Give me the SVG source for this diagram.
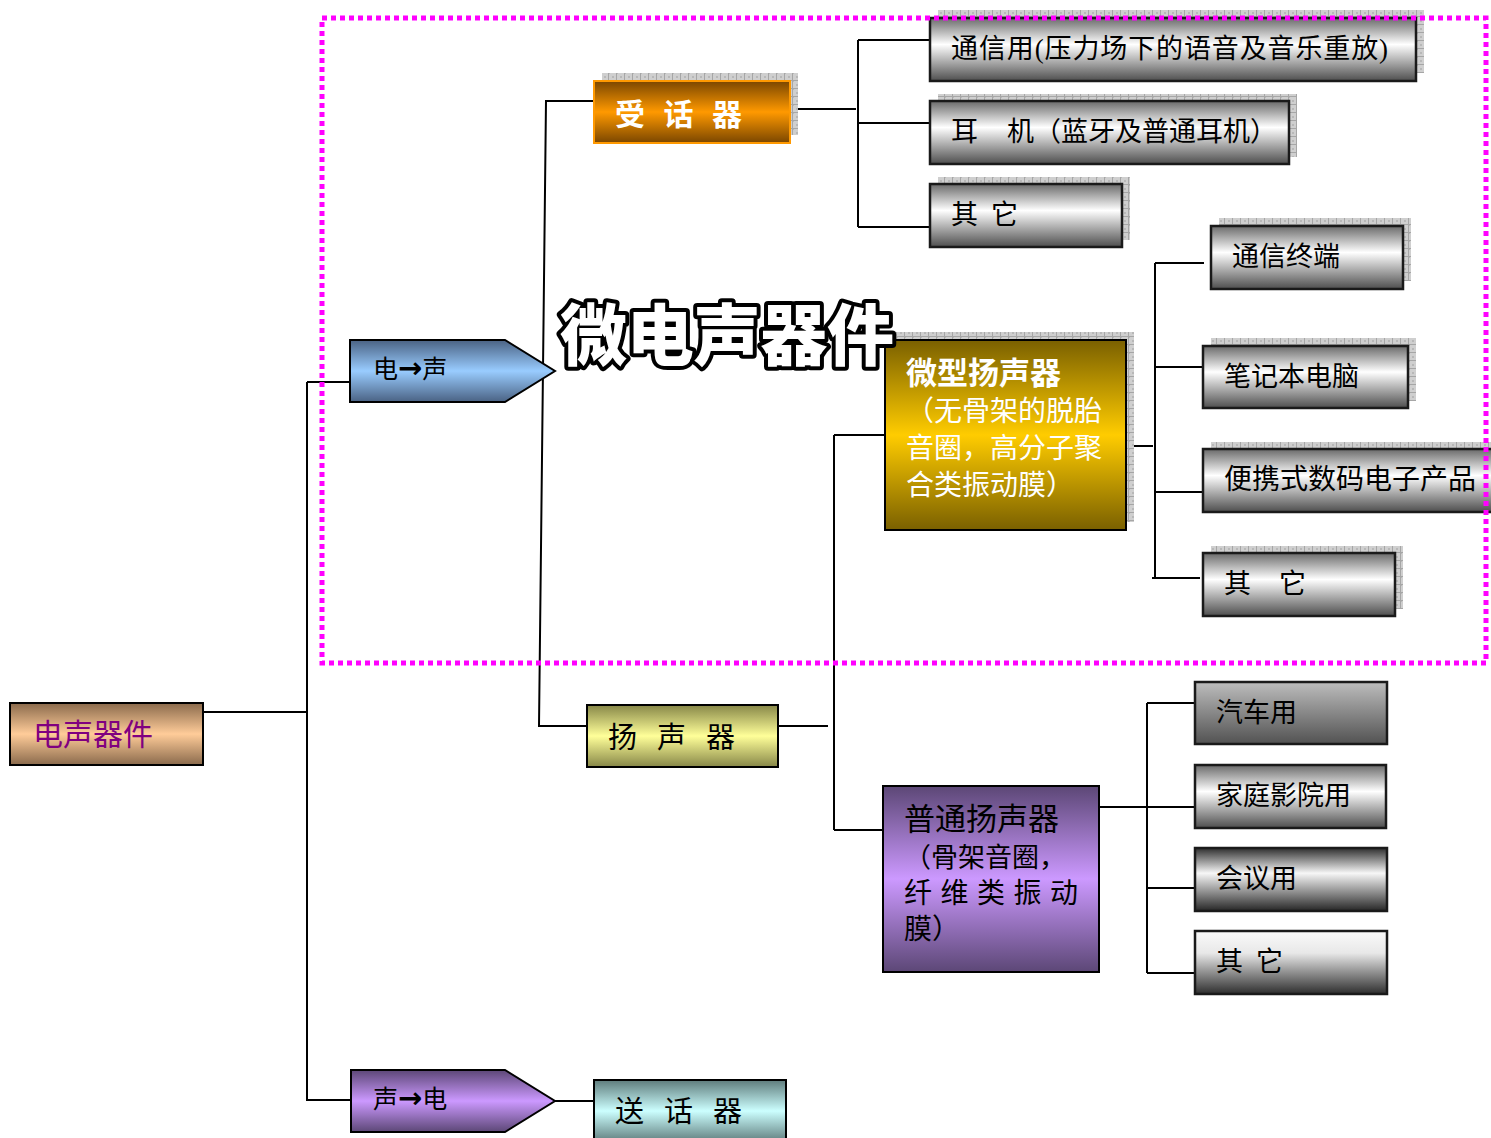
<svg xmlns="http://www.w3.org/2000/svg" width="1491" height="1138" viewBox="0 0 1491 1138">
<defs>
<style>
.t{font-family:"Liberation Serif","Noto Sans CJK SC",serif;fill:#000}
.w{fill:#fff}
.arr{font-family:"DejaVu Sans",sans-serif;font-weight:bold}
.box{stroke:#000;stroke-width:2}
.gbox{stroke:#1a1a1a;stroke-width:2.5}
.sh{fill:url(#shadow)}
.ln{fill:none;stroke:#000;stroke-width:2}
</style>
<pattern id="shadow" width="8" height="8" patternUnits="userSpaceOnUse">
<rect width="8" height="8" fill="#cfcfcf"/>
<rect width="2" height="2" fill="#b8b8b8"/><rect x="4" y="4" width="2" height="2" fill="#b8b8b8"/>
<path d="M0 0.5H8M0.5 0V8" stroke="#a6a6a6" stroke-width="1"/>
</pattern>
<linearGradient id="gMetal" x1="0" y1="0" x2="0" y2="1"><stop offset="0" stop-color="#6a6a6a"/><stop offset="0.42" stop-color="#ffffff"/><stop offset="1" stop-color="#4e4e4e"/></linearGradient>
<linearGradient id="gDown" x1="0" y1="0" x2="0" y2="1"><stop offset="0" stop-color="#bdbdbd"/><stop offset="1" stop-color="#525252"/></linearGradient>
<linearGradient id="gDark" x1="0" y1="0" x2="0" y2="1"><stop offset="0" stop-color="#2e2e2e"/><stop offset="0.4" stop-color="#f7f7f7"/><stop offset="1" stop-color="#262626"/></linearGradient>
<linearGradient id="gWhiteDown" x1="0" y1="0" x2="0" y2="1"><stop offset="0" stop-color="#fafafa"/><stop offset="0.35" stop-color="#e8e8e8"/><stop offset="1" stop-color="#2e2e2e"/></linearGradient>
<linearGradient id="gPeach" x1="0" y1="0" x2="0" y2="1"><stop offset="0" stop-color="#8a6a4c"/><stop offset="0.5" stop-color="#ffcc99"/><stop offset="1" stop-color="#8a6a4c"/></linearGradient>
<linearGradient id="gBlue" x1="0" y1="0" x2="0" y2="1"><stop offset="0" stop-color="#4a6283"/><stop offset="0.5" stop-color="#99ccff"/><stop offset="1" stop-color="#4a6283"/></linearGradient>
<linearGradient id="gPurple" x1="0" y1="0" x2="0" y2="1"><stop offset="0" stop-color="#5c4776"/><stop offset="0.5" stop-color="#cc99ff"/><stop offset="1" stop-color="#5c4776"/></linearGradient>
<linearGradient id="gOrange" x1="0" y1="0" x2="0" y2="1"><stop offset="0" stop-color="#7a4600"/><stop offset="0.5" stop-color="#ff9900"/><stop offset="1" stop-color="#7a4600"/></linearGradient>
<linearGradient id="gYellow" x1="0" y1="0" x2="0" y2="1"><stop offset="0" stop-color="#878748"/><stop offset="0.5" stop-color="#ffff99"/><stop offset="1" stop-color="#878748"/></linearGradient>
<linearGradient id="gGold" x1="0" y1="0" x2="0" y2="1"><stop offset="0" stop-color="#7a6000"/><stop offset="0.5" stop-color="#ffcc00"/><stop offset="1" stop-color="#7a6000"/></linearGradient>
<linearGradient id="gCyan" x1="0" y1="0" x2="0" y2="1"><stop offset="0" stop-color="#5f7c7c"/><stop offset="0.5" stop-color="#ccffff"/><stop offset="1" stop-color="#5f7c7c"/></linearGradient>
</defs>
<rect width="1491" height="1138" fill="#fff"/>

<g id="connectors" class="ln">
<path d="M203 712H308M307 382V1100M307 382H356M306 1100H356"/>
<path d="M594 101H546L539 726H587"/>
<path d="M790 109H856M858 40V227M858 40H930M858 123H930M858 227H930"/>
<path d="M778 726H828M834 435V830M834 435H885M834 830H883"/>
<path d="M1126 446H1153M1155 263V578M1155 263H1204M1155 367H1203M1155 492H1203M1152 578H1200"/>
<path d="M1099 807H1195M1147 703V973M1147 703H1195M1147 888H1195M1147 973H1195"/>
<path d="M555 1101H594"/>
</g>

<g id="n-root">
<rect class="box" x="10" y="703" width="193" height="62" fill="url(#gPeach)"/>
<text class="t" x="33" y="745" font-size="30" style="fill:#800080">电声器件</text>
</g>

<g id="n-e2s">
<path class="box" d="M350 340H505L555 371L505 402H350Z" fill="url(#gBlue)"/>
<text class="t" x="373" y="378" font-size="25">电<tspan class="arr" font-size="29">→</tspan>声</text>
</g>

<g id="n-s2e">
<path class="box" d="M351 1070H505L555 1101L505 1132H351Z" fill="url(#gPurple)"/>
<text class="t" x="373" y="1108" font-size="25">声<tspan class="arr" font-size="29">→</tspan>电</text>
</g>

<g id="n-mic">
<rect class="box" x="594" y="1080" width="192" height="62" fill="url(#gCyan)"/>
<text class="t" x="615" y="1122" font-size="29" textLength="127" lengthAdjust="spacing">送 话 器</text>
</g>

<g id="n-receiver">
<rect class="sh" x="602" y="73" width="196" height="62"/>
<rect x="594" y="81" width="196" height="62" fill="url(#gOrange)" stroke="#ff9900" stroke-width="2"/>
<text class="t w" x="615" y="125" font-size="30" font-weight="bold" textLength="127" lengthAdjust="spacing">受 话 器</text>
</g>

<g id="n-speaker">
<rect class="box" x="587" y="705" width="191" height="62" fill="url(#gYellow)"/>
<text class="t" x="608" y="748" font-size="29" textLength="127" lengthAdjust="spacing">扬 声 器</text>
</g>

<g id="n-comm">
<rect class="sh" x="938" y="10" width="486" height="63"/>
<rect class="gbox" x="930" y="18" width="486" height="63" fill="url(#gMetal)"/>
<text class="t" x="951" y="58" font-size="27" textLength="437" lengthAdjust="spacing">通信用(压力场下的语音及音乐重放)</text>
</g>

<g id="n-earphone">
<rect class="sh" x="938" y="94" width="359" height="63"/>
<rect class="gbox" x="930" y="101" width="359" height="63" fill="url(#gMetal)"/>
<text class="t" x="951" y="141" font-size="27">耳 <tspan x="1007">机（蓝牙及普通耳机）</tspan></text>
</g>

<g id="n-other1">
<rect class="sh" x="938" y="177" width="192" height="63"/>
<rect class="gbox" x="930" y="184" width="192" height="63" fill="url(#gMetal)"/>
<text class="t" x="951" y="224" font-size="27" textLength="67" lengthAdjust="spacing">其 它</text>
</g>

<g id="n-micro">
<rect class="sh" x="893" y="332" width="241" height="190"/>
<rect class="box" x="885" y="340" width="241" height="190" fill="url(#gGold)"/>
<text class="t w" x="906" y="384" font-size="31" font-weight="bold">微型扬声器</text>
<text class="t w" font-size="28"><tspan x="906" y="421">（无骨架的脱胎</tspan><tspan x="906" y="458">音圈，高分子聚</tspan><tspan x="906" y="495">合类振动膜）</tspan></text>
</g>

<g id="n-terminal">
<rect class="sh" x="1219" y="218" width="192" height="63"/>
<rect class="gbox" x="1211" y="226" width="192" height="63" fill="url(#gMetal)"/>
<text class="t" x="1232" y="266" font-size="27">通信终端</text>
</g>

<g id="n-laptop">
<rect class="sh" x="1211" y="338" width="205" height="63"/>
<rect class="gbox" x="1203" y="346" width="205" height="62" fill="url(#gMetal)"/>
<text class="t" x="1224" y="386" font-size="27">笔记本电脑</text>
</g>

<g id="n-portable">
<rect class="sh" x="1211" y="442" width="290" height="63"/>
<rect class="gbox" x="1203" y="449" width="300" height="63" fill="url(#gMetal)"/>
<text class="t" x="1224" y="489" font-size="28">便携式数码电子产品</text>
</g>

<g id="n-other2">
<rect class="sh" x="1211" y="546" width="192" height="63"/>
<rect class="gbox" x="1203" y="553" width="192" height="63" fill="url(#gMetal)"/>
<text class="t" x="1224" y="593" font-size="27" textLength="82" lengthAdjust="spacing">其   它</text>
</g>

<g id="n-normal">
<rect class="box" x="883" y="786" width="216" height="186" fill="url(#gPurple)"/>
<text class="t" x="904" y="830" font-size="31">普通扬声器</text>
<text class="t" x="904" y="867" font-size="27">（骨架音圈，</text>
<text class="t" x="904" y="903" font-size="28" textLength="174" lengthAdjust="spacing">纤 维 类 振 动</text>
<text class="t" x="904" y="939" font-size="28">膜）</text>
</g>

<g id="n-car">
<rect class="gbox" x="1195" y="682" width="192" height="62" fill="url(#gDown)"/>
<text class="t" x="1216" y="722" font-size="27">汽车用</text>
</g>

<g id="n-home">
<rect class="gbox" x="1195" y="765" width="191" height="63" fill="url(#gMetal)"/>
<text class="t" x="1216" y="805" font-size="27">家庭影院用</text>
</g>

<g id="n-meeting">
<rect class="gbox" x="1195" y="848" width="192" height="63" fill="url(#gDark)"/>
<text class="t" x="1216" y="888" font-size="27">会议用</text>
</g>

<g id="n-other3">
<rect class="gbox" x="1195" y="931" width="192" height="63" fill="url(#gWhiteDown)"/>
<text class="t" x="1216" y="971" font-size="27" textLength="67" lengthAdjust="spacing">其 它</text>
</g>

<g id="title">
<text x="560" y="360" font-family="'Noto Sans CJK SC',sans-serif" font-size="67" font-weight="900" fill="#fff" stroke="#000" stroke-width="8" stroke-linejoin="round" paint-order="stroke" textLength="334" lengthAdjust="spacing">微电声器件</text>
</g>

<rect id="region" x="322" y="18" width="1164" height="645" fill="none" stroke="#ff00ff" stroke-width="5" stroke-dasharray="5 4"/>
</svg>
